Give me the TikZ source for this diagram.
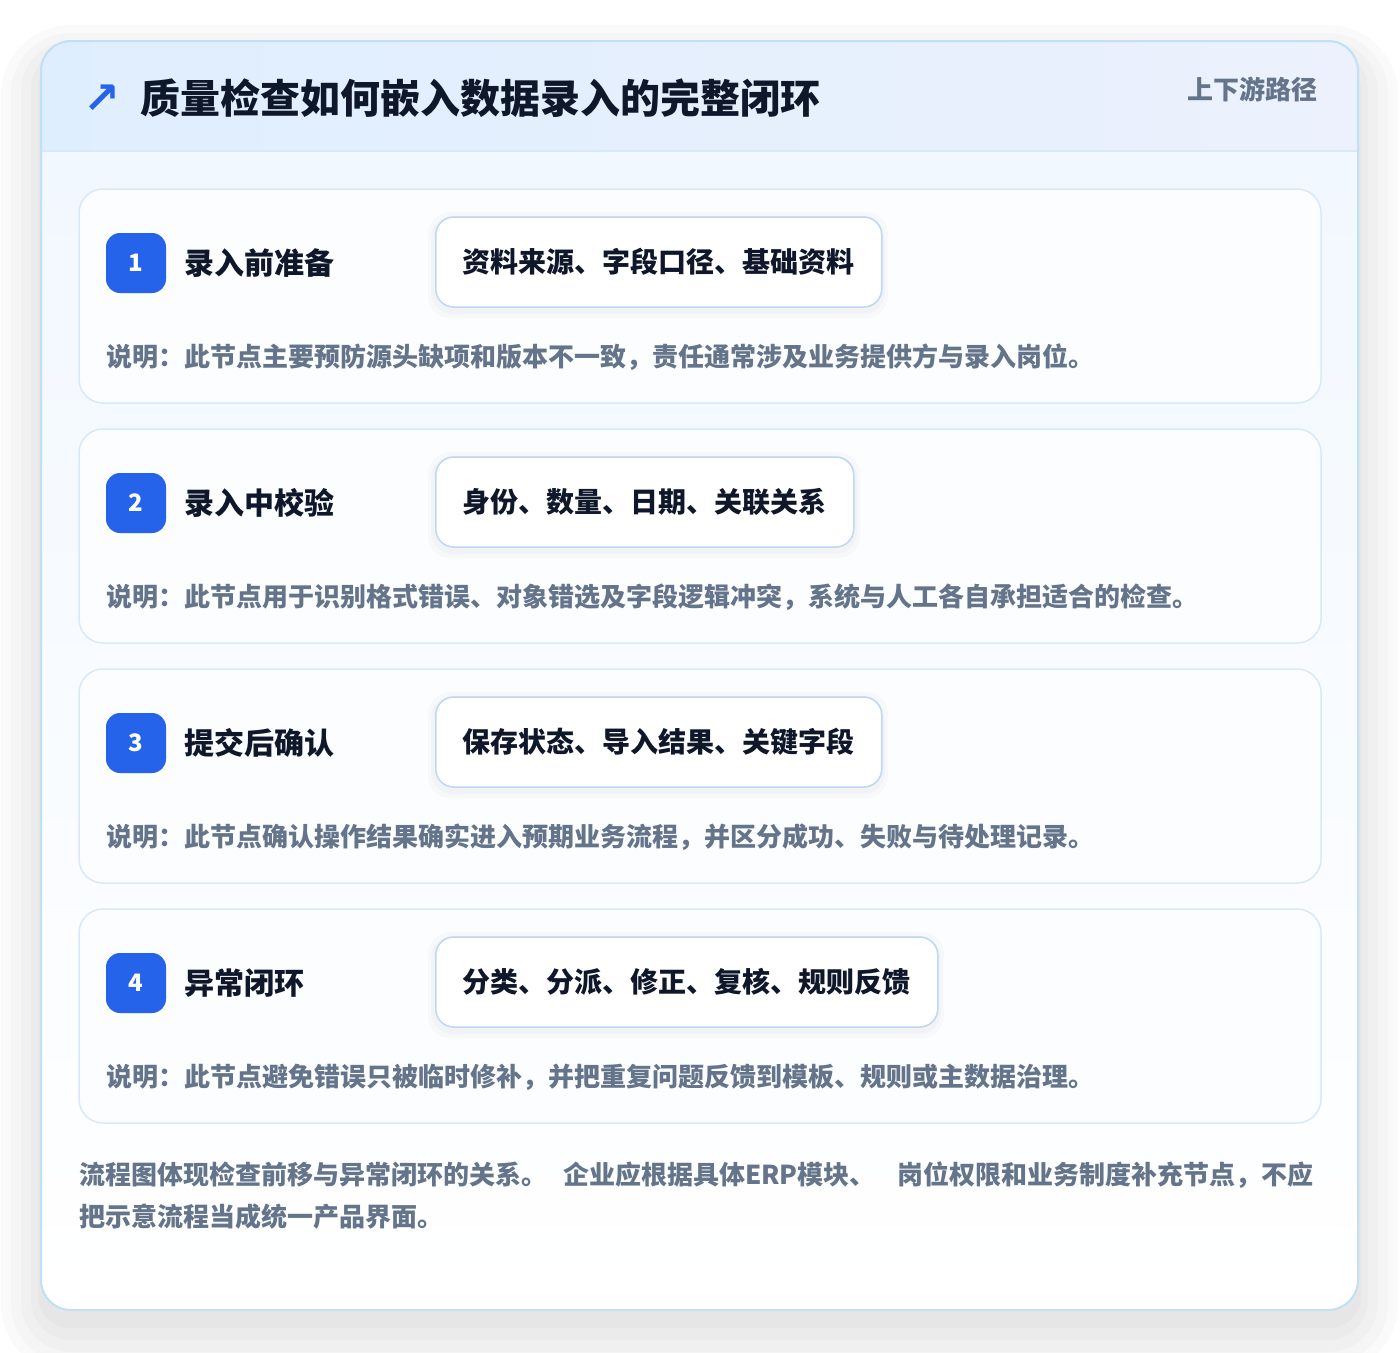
\documentclass[tikz,border=0pt]{standalone}
\usepackage{fontspec}
\setmainfont{Noto Sans CJK SC}
\newfontfamily\symfont{DejaVu Sans}
\usetikzlibrary{positioning}

\definecolor{ink}{HTML}{0F172A}
\definecolor{slate}{HTML}{64748B}
\definecolor{badgeblue}{HTML}{2563EB}
\definecolor{frameline}{HTML}{BFE0F6}
\definecolor{cardline}{HTML}{D8E9F8}
\definecolor{cardfill}{HTML}{FBFDFF}
\definecolor{tagline}{HTML}{BFD6F4}
\definecolor{hdleft}{HTML}{DFEEFE}
\definecolor{hdright}{HTML}{ECF1FD}
\definecolor{bodytop}{HTML}{F2F8FF}

\newcommand\fsz[1]{\fontsize{#1}{#1}\selectfont\bfseries}

\tikzset{
  frame/.style={draw=frameline, line width=2pt, rounded corners=30pt,
    minimum width=1317pt, minimum height=1269pt, inner sep=0pt},
  card/.style={draw=cardline, line width=1.5pt, fill=cardfill, rounded corners=24pt,
    minimum width=1242pt, minimum height=214pt, inner sep=0pt},
  badge/.style={fill=badgeblue, rounded corners=14pt, minimum size=60pt,
    inner sep=0pt, text=white, font=\fsz{24}},
  steptitle/.style={anchor=west, inner sep=0pt, text=ink, font=\fsz{30}},
  tag/.style={anchor=west, draw=tagline, line width=1.5pt, fill=white,
    rounded corners=18pt, minimum height=90pt, inner xsep=27pt, inner ysep=0pt,
    text=ink, font=\fsz{28}},
  note/.style={anchor=west, inner sep=0pt, text=slate, font=\fsz{26}},
  haze/.style={fill=black, opacity=0.018},
  tagshadow/.style={fill=black, opacity=0.02, rounded corners=22pt}
}

\begin{document}
\begin{tikzpicture}[x=1pt,y=-1pt]
  \useasboundingbox (0,0) rectangle (1400,1352);
  \fill[white] (0,0) rectangle (1400,1352);

  % soft shadow below the frame
  \fill[haze, rounded corners=70pt] (1,25) rectangle (1398,1374);
  \fill[haze, rounded corners=60pt] (11,33) rectangle (1388,1364);
  \fill[haze, rounded corners=50pt] (21,41) rectangle (1378,1352);
  \fill[haze, rounded corners=40pt] (31,49) rectangle (1368,1340);
  \fill[haze, rounded corners=32pt] (38,57) rectangle (1361,1328);

  % frame background: header band and body
  \begin{scope}
    \clip[rounded corners=30pt] (41,41) rectangle (1358,1310);
    \fill[white] (41,41) rectangle (1358,1310);
    \shade[top color=bodytop, bottom color=white] (41,151) rectangle (1358,1310);
    \shade[left color=hdleft, right color=hdright] (41,41) rectangle (1358,151);
    \draw[cardline, line width=1.5pt] (41,151) -- (1358,151);
  \end{scope}
  \node[frame] (frame) at (699.5,675.5) {};

  % header
  \node[text=badgeblue, font=\symfont\bfseries\fontsize{44}{44}\selectfont, inner sep=0pt]
    (icon) at (102,99) {↗};
  \node[anchor=west, inner sep=0pt, text=ink, font=\fsz{40}]
    (title) at (140,98) {质量检查如何嵌入数据录入的完整闭环};
  \node[anchor=east, inner sep=0pt, text=slate, font=\fsz{26}]
    (path) at (1318,89) {上下游路径};

  % step cards
  \node[card] (card1) at (700,296) {};
  \node[card] (card2) at (700,536) {};
  \node[card] (card3) at (700,776) {};
  \node[card] (card4) at (700,1016) {};

  % tag shadows
  \fill[tagshadow] (428,212) rectangle (888,318);
  \fill[tagshadow] (431,216) rectangle (885,314);
  \fill[tagshadow] (428,452) rectangle (860,558);
  \fill[tagshadow] (431,456) rectangle (857,554);
  \fill[tagshadow] (428,692) rectangle (888,798);
  \fill[tagshadow] (431,696) rectangle (885,794);
  \fill[tagshadow] (428,932) rectangle (944,1038);
  \fill[tagshadow] (431,936) rectangle (941,1034);

  % step 1
  \node[badge] (badge1) at (136,263) {1};
  \node[steptitle] (title1) at (184,263) {录入前准备};
  \node[tag] (tag1) at (435,262) {资料来源、字段口径、基础资料};
  \node[note] (note1) at (106,357) {说明：此节点主要预防源头缺项和版本不一致，责任通常涉及业务提供方与录入岗位。};

  % step 2
  \node[badge] (badge2) at (136,503) {2};
  \node[steptitle] (title2) at (184,503) {录入中校验};
  \node[tag] (tag2) at (435,502) {身份、数量、日期、关联关系};
  \node[note] (note2) at (106,597) {说明：此节点用于识别格式错误、对象错选及字段逻辑冲突，系统与人工各自承担适合的检查。};

  % step 3
  \node[badge] (badge3) at (136,743) {3};
  \node[steptitle] (title3) at (184,743) {提交后确认};
  \node[tag] (tag3) at (435,742) {保存状态、导入结果、关键字段};
  \node[note] (note3) at (106,837) {说明：此节点确认操作结果确实进入预期业务流程，并区分成功、失败与待处理记录。};

  % step 4
  \node[badge] (badge4) at (136,983) {4};
  \node[steptitle] (title4) at (184,983) {异常闭环};
  \node[tag] (tag4) at (435,982) {分类、分派、修正、复核、规则反馈};
  \node[note] (note4) at (106,1077) {说明：此节点避免错误只被临时修补，并把重复问题反馈到模板、规则或主数据治理。};

  % closing remark
  \node[anchor=north west, inner sep=0pt, align=left, text=slate,
    font=\fontsize{26}{42}\selectfont\bfseries] (remark) at (79,1162)
    {流程图体现检查前移与异常闭环的关系。\hspace{16pt}企业应根据具体ERP模块、\hspace{22pt}岗位权限和业务制度补充节点，不应\\
     把示意流程当成统一产品界面。};
\end{tikzpicture}
\end{document}
